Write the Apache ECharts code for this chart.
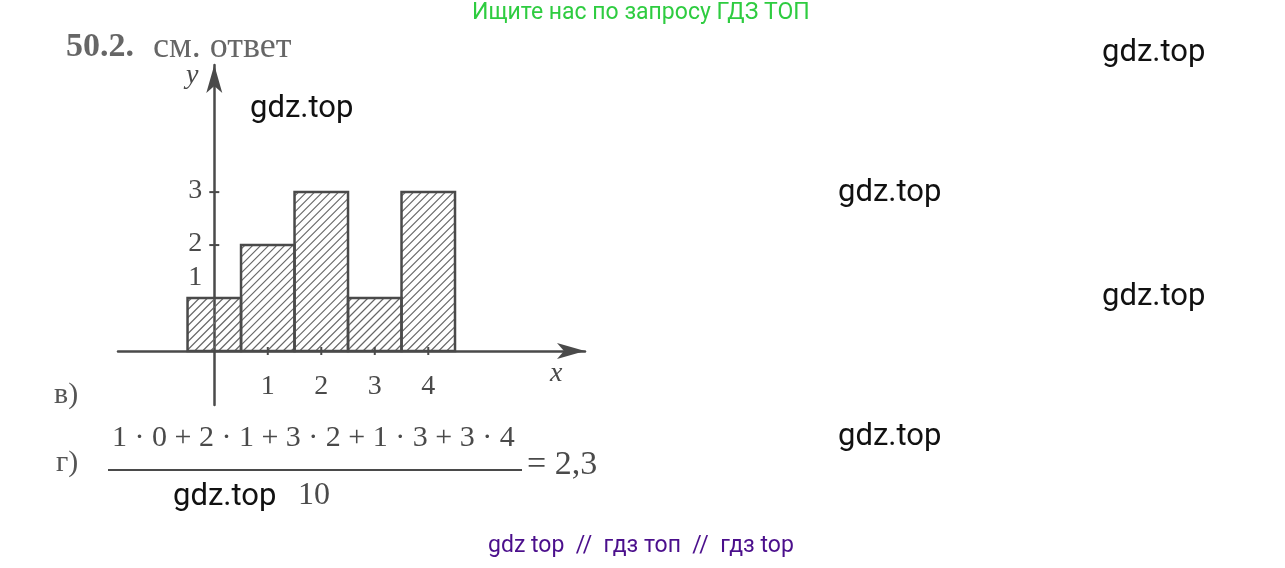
<!DOCTYPE html>
<html><head><meta charset="utf-8">
<script src="https://cdn.jsdelivr.net/npm/echarts@6/dist/echarts.min.js"></script>
<style>html,body{margin:0;padding:0;background:#fff}#c{width:1285px;height:568px}</style>
</head><body><div id="c"></div>
<script>
const categories = [0, 1, 2, 3, 4];
const values = [1, 2, 3, 1, 3];
const xTicks = [1, 2, 3, 4];
const yTicks = [1, 2, 3];
const ink = '#4a4a4a';
const chart = echarts.init(document.getElementById('c'));
const serif = 'Liberation Serif';
chart.setOption({
  animation: false,
  grid: {left: 118, right: 700, top: 65, bottom: 163},
  xAxis: {type: 'value', min: -1.8, max: 6.93, splitLine: {show: false},
    axisLine: {onZero: true, lineStyle: {color: ink, width: 2.5}, symbol: ['none', 'arrow'], symbolSize: [12, 28]},
    axisTick: {show: false},
    axisLabel: {show: false}},
  yAxis: {type: 'value', min: -1.02, max: 5.4, splitLine: {show: false},
    axisLine: {onZero: true, lineStyle: {color: ink, width: 2.5}, symbol: ['none', 'arrow'], symbolSize: [12, 28]},
    axisTick: {show: false}, axisLabel: {show: false}},
  graphic: [
    {type: 'text', left: 472, top: 2, style: {text: 'Ищите нас по запросу ГДЗ ТОП', fill: '#2ecc40', font: '23px Roboto'}},
    {type: 'text', left: 66, top: 30, style: {text: '50.2.', fill: '#666', font: 'bold 34px ' + serif}},
    {type: 'text', left: 153, top: 30, style: {text: 'см. ответ', fill: '#666', font: '36px ' + serif}},
    {type: 'text', left: 1102, top: 38, style: {text: 'gdz.top', fill: '#111', font: '31px Roboto'}},
    {type: 'text', left: 250, top: 94, style: {text: 'gdz.top', fill: '#111', font: '31px Roboto'}},
    {type: 'text', left: 838, top: 178, style: {text: 'gdz.top', fill: '#111', font: '31px Roboto'}},
    {type: 'text', left: 1102, top: 282, style: {text: 'gdz.top', fill: '#111', font: '31px Roboto'}},
    {type: 'text', left: 838, top: 422, style: {text: 'gdz.top', fill: '#111', font: '31px Roboto'}},
    {type: 'text', left: 173, top: 482, style: {text: 'gdz.top', fill: '#111', font: '31px Roboto'}},
    {type: 'text', left: 298, top: 480, style: {text: '10', fill: ink, font: '32px ' + serif}},
    {type: 'text', left: 186, top: 62, style: {text: 'y', fill: ink, font: 'italic 28px ' + serif}},
    {type: 'text', left: 550, top: 360, style: {text: 'x', fill: ink, font: 'italic 28px ' + serif}},
    {type: 'text', left: 54, top: 380, style: {text: 'в)', fill: '#555', font: '30px ' + serif}},
    {type: 'text', left: 56, top: 448, style: {text: 'г)', fill: '#555', font: '30px ' + serif}},
    {type: 'text', left: 112, top: 423, style: {text: '1 · 0 + 2 · 1 + 3 · 2 + 1 · 3 + 3 · 4', fill: ink, font: '30px ' + serif}},
    {type: 'line', shape: {x1: 108, y1: 470, x2: 522, y2: 470}, style: {stroke: ink, lineWidth: 2}},
    {type: 'text', left: 527, top: 448, style: {text: '= 2,3', fill: ink, font: '34px ' + serif}},
    {type: 'text', left: 488, top: 535, style: {text: 'gdz top  //  гдз топ  //  гдз top', fill: '#4b0f8c', font: '23px Roboto'}}
  ],
  series: [{
    type: 'custom',
    data: categories.map((c, i) => [c, values[i]]),
    renderItem: function (params, api) {
      const x = api.value(0), h = api.value(1);
      const p0 = api.coord([x - 0.5, h]), p1 = api.coord([x + 0.5, 0]);
      const x0 = p0[0], y0 = p0[1], x1 = p1[0], y1 = p1[1];
      const children = [];
      for (let c = x0 + y0 + 4; c < x1 + y1; c += 8) {
        const a = Math.max(x0, c - y1), b = Math.min(x1, c - y0);
        if (b > a) children.push({type: 'line', shape: {x1: a, y1: c - a, x2: b, y2: c - b}, style: {stroke: '#666', lineWidth: 1.2}});
      }
      children.push({type: 'rect', shape: {x: x0, y: y0, width: x1 - x0, height: y1 - y0}, style: {fill: 'none', stroke: ink, lineWidth: 2.5}});
      return {type: 'group', children: children};
    }
  }, {
    type: 'custom',
    data: xTicks.map(v => [v]),
    renderItem: function (params, api) {
      const p = api.coord([api.value(0), 0]);
      return {type: 'group', children: [
        {type: 'line', shape: {x1: p[0], y1: p[1] - 4, x2: p[0], y2: p[1] + 4}, style: {stroke: ink, lineWidth: 2}},
        {type: 'text', style: {text: String(api.value(0)), x: p[0], y: p[1] + 22, align: 'center', fill: ink, font: '28px ' + serif}}
      ]};
    }
  }, {
    type: 'custom',
    data: yTicks.map(v => [v]),
    renderItem: function (params, api) {
      const p = api.coord([0, api.value(0)]);
      return {type: 'group', children: [
        {type: 'line', shape: {x1: p[0] - 5, y1: p[1], x2: p[0] + 5, y2: p[1]}, style: {stroke: ink, lineWidth: 2}},
        {type: 'text', style: {text: String(api.value(0)), x: p[0] - 12, y: p[1] - (api.value(0) === 1 ? 34 : 15), align: 'right', fill: ink, font: '28px ' + serif}}
      ]};
    }
  }]
});
</script></body></html>
